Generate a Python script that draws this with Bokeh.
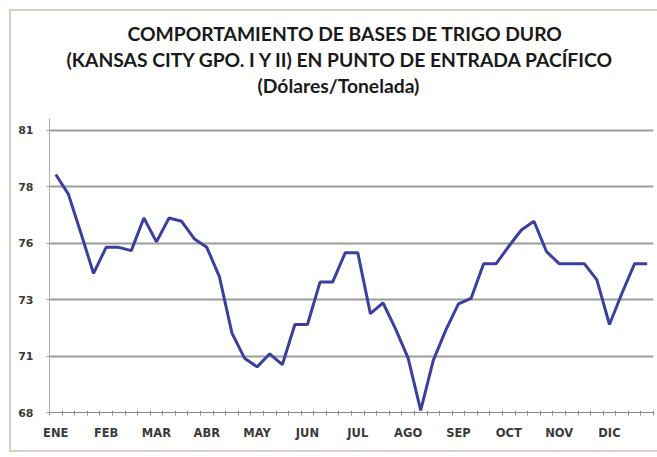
from bokeh.plotting import figure
from bokeh.models import FixedTicker, Title, Range1d, PrintfTickFormatter
from bokeh.embed import file_html
from bokeh.resources import INLINE

# ---- data -------------------------------------------------------------
months = ["ENE", "FEB", "MAR", "ABR", "MAY", "JUN",
          "JUL", "AGO", "SEP", "OCT", "NOV", "DIC"]
weeks_per_month = 4
values = [78.95, 78.05, 76.25, 74.40, 75.60, 75.60, 75.45, 76.95,
          75.85, 76.95, 76.80, 76.00, 75.60, 74.25, 71.65, 70.50,
          70.10, 70.70, 70.20, 72.05, 72.05, 74.00, 74.00, 75.35,
          75.35, 72.55, 73.05, 71.85, 70.50, 68.10, 70.40, 71.80,
          73.00, 73.25, 74.85, 74.85, 75.65, 76.40, 76.80, 75.40,
          74.85, 74.85, 74.85, 74.10, 72.05, 73.50, 74.85, 74.85]
y_ticks = [68.0, 70.6, 73.2, 75.8, 78.4, 81.0]
title_lines = ["COMPORTAMIENTO DE BASES DE TRIGO DURO",
               "(KANSAS CITY GPO. I Y II) EN PUNTO DE ENTRADA PACÍFICO",
               "(Dólares/Tonelada)"]

# ---- figure -----------------------------------------------------------
n = len(values)
x = list(range(n))

p = figure(width=657, height=452, output_backend="svg", toolbar_location=None,
           x_range=Range1d(-0.5, n - 0.5), y_range=Range1d(68.0, 81.53),
           min_border_left=49, min_border_right=4,
           min_border_top=118, min_border_bottom=40)
p.outline_line_color = None
p.background_fill_color = "white"
p.border_fill_color = None
p.styles = {
    "background-color": "white",
    "box-shadow": ("inset 4.5px 4.5px 0 4.5px #ffffff, "
                   "inset 5.5px 5.5px 0 5.5px #d9cfbf, "
                   "inset 1px -1px 0 1px #d9cfbf"),
}

p.line(x, values, line_color="#3d3f9f", line_width=3)

# grid
p.xgrid.visible = False
p.ygrid.ticker = FixedTicker(ticks=y_ticks)
p.ygrid.grid_line_color = "#9c9c9c"
p.ygrid.grid_line_width = 1.8

# y axis
p.yaxis.ticker = FixedTicker(ticks=y_ticks)
p.yaxis.formatter = PrintfTickFormatter(format="%.0f")
p.yaxis.axis_line_color = "#b5aea5"
p.yaxis.major_tick_line_color = "#a0a0a0"
p.yaxis.major_tick_out = 3
p.yaxis.major_tick_in = 0
p.yaxis.minor_tick_line_color = None
p.yaxis.major_label_standoff = 13
p.yaxis.major_label_text_font = "DejaVu Sans"
p.yaxis.major_label_text_font_style = "bold"
p.yaxis.major_label_text_font_size = "11px"
p.yaxis.major_label_text_color = "#3a3a3a"

# x axis
label_pos = [weeks_per_month * i for i in range(len(months))]
p.xaxis.ticker = FixedTicker(ticks=label_pos,
                             minor_ticks=[k - 0.5 for k in range(n + 1)])
p.xaxis.major_label_overrides = {pos: m for pos, m in zip(label_pos, months)}
p.xaxis.axis_line_color = "#8a8a8a"
p.xaxis.major_tick_out = 0
p.xaxis.major_tick_in = 0
p.xaxis.minor_tick_line_color = "#8a8a8a"
p.xaxis.minor_tick_out = 3
p.xaxis.minor_tick_in = 2
p.xaxis.major_label_standoff = 10
p.xaxis.major_label_text_font = "DejaVu Sans"
p.xaxis.major_label_text_font_style = "bold"
p.xaxis.major_label_text_font_size = "11.5px"
p.xaxis.major_label_text_color = "#3a3a3a"

# titles: added bottom-most first
for txt, standoff, off in [(title_lines[2], 43, 208),
                           (title_lines[1], -40, 17),
                           (title_lines[0], 11, 78)]:
    p.add_layout(Title(text=txt, align="left", offset=off,
                       vertical_align="bottom",
                       text_font="Lato", text_font_style="bold",
                       text_font_size="19.3px", text_color="#1a1a1a",
                       standoff=standoff), "above")

open("out.html", "w").write(file_html(p, INLINE))
